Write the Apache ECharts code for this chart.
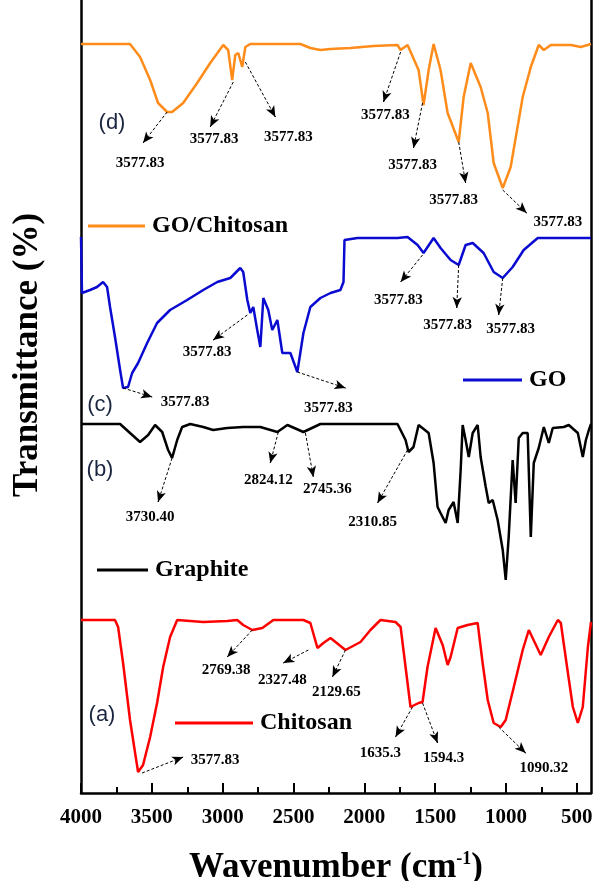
<!DOCTYPE html>
<html>
<head>
<meta charset="utf-8">
<script src="https://cdn.jsdelivr.net/npm/echarts@6/dist/echarts.min.js"></script>
<style>html,body{margin:0;padding:0;background:#fff}#container{width:595px;height:881px}</style>
</head>
<body>
<div id="container"></div>
<script>
// [wavenumber (cm-1), transmittance (a.u., curves offset)]
var goChitosan = [[4000,749],[3654,749],[3583,736],[3512,713],[3456,690],[3392,681],[3357,681],[3279,690],[3180,710],[3088,730],[2996,748],[2961,743],[2933,713],[2911,738],[2890,740],[2862,726],[2840,746],[2805,749],[2451,749],[2381,745],[2310,743],[2239,744],[2098,745],[1935,747],[1766,748],[1744,743],[1695,748],[1617,723],[1582,688],[1546,723],[1511,749],[1462,723],[1412,680],[1334,651],[1299,696],[1249,730],[1179,706],[1129,680],[1087,630],[1023,605],[967,626],[882,696],[825,726],[769,748],[733,743],[684,748],[542,748],[471,746],[400,749]];
var go = [[4000,556],[3993,500],[3936,503],[3887,506],[3844,511],[3816,506],[3795,486],[3760,456],[3724,423],[3703,405],[3668,406],[3639,420],[3597,430],[3533,450],[3463,470],[3371,483],[3251,493],[3137,503],[3038,511],[2946,515],[2876,525],[2855,521],[2826,493],[2805,480],[2784,486],[2756,463],[2734,446],[2713,495],[2678,483],[2650,463],[2614,473],[2579,440],[2522,440],[2473,421],[2430,460],[2381,486],[2310,495],[2239,500],[2169,503],[2147,511],[2140,553],[2048,555],[1766,555],[1695,556],[1624,548],[1582,540],[1511,555],[1462,545],[1391,533],[1334,528],[1285,548],[1235,550],[1158,540],[1087,521],[1023,515],[953,526],[875,543],[776,555],[705,555],[400,555]];
var graphite = [[4000,369],[3724,369],[3654,360],[3583,351],[3526,358],[3477,368],[3427,361],[3385,343],[3357,335],[3321,353],[3286,366],[3229,369],[3137,366],[3067,363],[2968,365],[2855,366],[2734,366],[2614,361],[2543,368],[2430,361],[2310,369],[1766,369],[1709,353],[1688,341],[1653,346],[1617,368],[1546,360],[1511,330],[1483,286],[1462,280],[1426,270],[1405,283],[1370,291],[1341,270],[1320,323],[1306,368],[1285,353],[1263,336],[1235,360],[1200,368],[1179,336],[1143,306],[1122,290],[1094,293],[1059,273],[1023,243],[1002,213],[981,256],[953,333],[932,290],[910,355],[882,360],[847,360],[825,256],[804,330],[769,345],[733,366],[698,350],[670,365],[592,366],[557,368],[493,360],[458,336],[436,353],[415,363],[400,369]];
var chitosan = [[4000,173],[3760,173],[3738,166],[3703,130],[3654,73],[3618,40],[3597,21],[3562,28],[3512,56],[3463,90],[3420,126],[3371,156],[3321,173],[3137,171],[2968,172],[2897,173],[2855,168],[2791,163],[2720,165],[2642,173],[2430,173],[2381,170],[2331,145],[2289,150],[2239,155],[2133,143],[2027,151],[1957,163],[1886,173],[1780,171],[1744,166],[1709,126],[1674,86],[1617,90],[1589,91],[1554,126],[1497,165],[1447,148],[1412,128],[1391,136],[1341,165],[1271,168],[1200,170],[1165,130],[1129,93],[1087,70],[1037,66],[1002,73],[945,106],[882,143],[839,163],[755,138],[698,156],[634,173],[613,170],[563,120],[528,86],[493,70],[458,86],[422,146],[400,171]];

var majorTicks = [500,1000,1500,2000,2500,3000,3500,4000];
var minorTicks = [750,1250,1750,2250,2750,3250,3750];

// peak annotations: arrow from -> to, label at
var goChitosanPeaks = [
  {text:'3577.83', from:[3392,681], to:[3562,650], at:[3583,630]},
  {text:'3577.83', from:[2925,711], to:[3088,666], at:[3060,654]},
  {text:'3577.83', from:[2840,731], to:[2628,676], at:[2536,656]},
  {text:'3577.83', from:[1744,741], to:[1865,691], at:[1851,678]},
  {text:'3577.83', from:[1589,690], to:[1653,645], at:[1660,628]},
  {text:'3577.83', from:[1334,651], to:[1285,610], at:[1370,593]},
  {text:'3577.83', from:[1023,603], to:[854,580], at:[634,571]}
];
var goPeaks = [
  {text:'3577.83', from:[3703,405], to:[3498,396], at:[3265,391]},
  {text:'3577.83', from:[2826,478], to:[3067,453], at:[3109,441]},
  {text:'3577.83', from:[2473,421], to:[2133,405], at:[2254,385]},
  {text:'3577.83', from:[1589,538], to:[1744,511], at:[1759,493]},
  {text:'3577.83', from:[1334,528], to:[1348,485], at:[1412,468]},
  {text:'3577.83', from:[1023,515], to:[1052,478], at:[967,464]}
];
var graphitePeaks = [
  {text:'3730.40', from:[3357,335], to:[3456,291], at:[3512,276]},
  {text:'2824.12', from:[2607,361], to:[2664,330], at:[2678,313]},
  {text:'2745.36', from:[2416,360], to:[2360,316], at:[2261,304]},
  {text:'2310.85', from:[1695,343], to:[1907,290], at:[1942,271]}
];
var chitosanPeaks = [
  {text:'3577.83', from:[3569,20], to:[3279,36], at:[3053,33]},
  {text:'2769.38', from:[2791,163], to:[2968,136], at:[2975,123]},
  {text:'2327.48', from:[2395,143], to:[2572,130], at:[2579,113]},
  {text:'2129.65', from:[2133,143], to:[2225,116], at:[2197,101]},
  {text:'1635.3', from:[1660,86], to:[1780,56], at:[1886,40]},
  {text:'1594.3', from:[1589,90], to:[1483,50], at:[1440,35]},
  {text:'1090.32', from:[1052,66], to:[861,40], at:[733,25]}
];

var serif = 'Liberation Serif';

function arrows(list) {
  var items = [];
  list.forEach(function (a) {
    // dashed shaft
    items.push([
      {coord: a.from, symbol: 'none', lineStyle: {type: [3, 2]}},
      {coord: a.to, symbol: 'none'}
    ]);
    // short solid piece carrying the filled head
    var near = [a.from[0] + 0.9 * (a.to[0] - a.from[0]), a.from[1] + 0.9 * (a.to[1] - a.from[1])];
    items.push([
      {coord: near, symbol: 'none', lineStyle: {type: 'solid'}},
      {coord: a.to, symbol: 'arrow', symbolSize: [7, 11]}
    ]);
  });
  return {
    silent: true,
    animation: false,
    symbol: ['none', 'none'],
    symbolSize: 10,
    label: {show: false},
    emphasis: {disabled: true},
    itemStyle: {color: '#000'},
    lineStyle: {color: '#000', width: 1},
    data: items
  };
}
function peakLabels(list) {
  return {
    silent: true,
    animation: false,
    symbol: 'circle',
    symbolSize: 1,
    itemStyle: {color: 'rgba(0,0,0,0)'},
    label: {
      show: true, position: 'inside', color: '#000',
      fontFamily: serif, fontWeight: 'bold', fontSize: 15,
      formatter: function (p) { return p.name; }
    },
    data: list.map(function (a) { return {name: a.text, coord: a.at, value: 0}; })
  };
}
function spectrum(name, data, color, peaks) {
  return {
    name: name, type: 'line', data: data,
    showSymbol: false, symbol: 'none',
    lineStyle: {color: color, width: 2.5},
    itemStyle: {color: color},
    animation: false,
    markLine: arrows(peaks),
    markPoint: peakLabels(peaks)
  };
}
function legendAt(name, left, top, w) {
  return {
    data: [name], left: left, top: top, padding: 0,
    icon: 'rect', itemWidth: w, itemHeight: 3,
    selectedMode: false,
    textStyle: {fontFamily: serif, fontWeight: 'bold', fontSize: 24, color: '#000', lineHeight: 26, padding: [0, 0, 0, 2]}
  };
}
function caseLabel(t, x, y) {
  return {type: 'text', x: x, y: y, style: {text: t, fill: '#1a2540', font: '22px "Liberation Sans"', textAlign: 'center', textVerticalAlign: 'middle'}};
}

var dom = document.getElementById('container');
var myChart = echarts.init(dom);
var option = {
  backgroundColor: '#fff',
  grid: {left: 81, right: 4, top: 0, bottom: 88, outerBoundsMode: 'none', containLabel: false},
  xAxis: [
    {
      type: 'value', min: 400, max: 4000, inverse: true,
      name: '{a|Wavenumber (cm}{s|-1}{a|)}',
      nameLocation: 'middle', nameGap: 57,
      nameTextStyle: {
        rich: {
          a: {fontFamily: serif, fontWeight: 'bold', fontSize: 35, color: '#000'},
          s: {fontFamily: serif, fontWeight: 'bold', fontSize: 18, color: '#000', verticalAlign: 'top', padding: [0, 0, 16, 0]}
        }
      },
      axisLine: {show: true, lineStyle: {color: '#000', width: 2.5}},
      axisTick: {show: true, inside: true, length: 10, customValues: majorTicks, lineStyle: {color: '#000', width: 2}},
      axisLabel: {customValues: majorTicks, margin: 14, fontFamily: serif, fontWeight: 'bold', fontSize: 21, color: '#000',
        formatter: function (v) { return String(v); }},
      splitLine: {show: false}
    },
    {
      type: 'value', min: 400, max: 4000, inverse: true, position: 'bottom',
      axisLine: {show: false},
      axisTick: {show: true, inside: true, length: 6, customValues: minorTicks, lineStyle: {color: '#000', width: 2}},
      axisLabel: {show: false},
      splitLine: {show: false}
    }
  ],
  yAxis: [
    {
      type: 'value', min: 0, max: 793, position: 'left',
      axisLine: {show: true, lineStyle: {color: '#000', width: 2.5}},
      axisTick: {show: false}, axisLabel: {show: false}, splitLine: {show: false}
    },
    {
      type: 'value', min: 0, max: 793, position: 'right',
      axisLine: {show: true, lineStyle: {color: '#000', width: 2.5}},
      axisTick: {show: false}, axisLabel: {show: false}, splitLine: {show: false}
    }
  ],
  legend: [
    legendAt('GO/Chitosan', 88, 213, 57),
    legendAt('GO', 463, 367, 59),
    legendAt('Graphite', 97, 557, 51),
    legendAt('Chitosan', 175, 710, 78)
  ],
  graphic: [
    {type: 'text', x: 28, y: 355, rotation: Math.PI / 2,
     style: {text: 'Transmittance (%)', fill: '#000', font: 'bold 35px "Liberation Serif"', textAlign: 'center', textVerticalAlign: 'middle'}},
    caseLabel('(d)', 112, 123),
    caseLabel('(c)', 100, 405),
    caseLabel('(b)', 100, 470),
    caseLabel('(a)', 102, 715)
  ],
  series: [
    spectrum('Chitosan', chitosan, '#ff0000', chitosanPeaks),
    spectrum('Graphite', graphite, '#000000', graphitePeaks),
    spectrum('GO', go, '#0a0ad0', goPeaks),
    spectrum('GO/Chitosan', goChitosan, '#ff8c1a', goChitosanPeaks)
  ]
};
myChart.setOption(option);
</script>
</body>
</html>
